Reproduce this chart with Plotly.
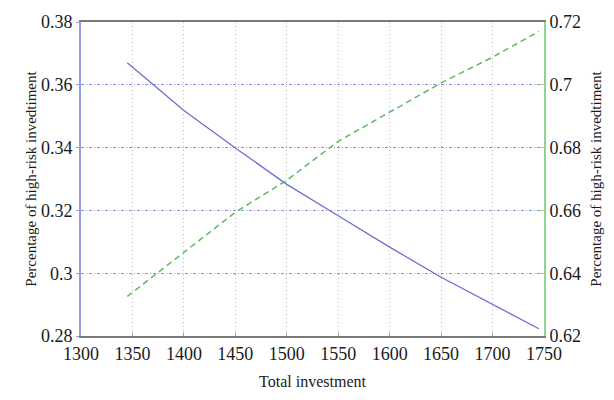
import plotly.graph_objects as go

investment = [1345, 1400, 1450, 1500, 1550, 1600, 1650, 1700, 1745]
share_left = [0.3670, 0.3518, 0.3399, 0.3283, 0.3183, 0.3083, 0.2987, 0.2900, 0.2823]
share_right = [0.6326, 0.6465, 0.6594, 0.6696, 0.6820, 0.6913, 0.7006, 0.7088, 0.7170]

x_ticks = [1300, 1350, 1400, 1450, 1500, 1550, 1600, 1650, 1700, 1750]
y_left_ticks = [0.28, 0.30, 0.32, 0.34, 0.36, 0.38]
y_left_text = ["0.28", "0.3", "0.32", "0.34", "0.36", "0.38"]
y_right_ticks = [0.62, 0.64, 0.66, 0.68, 0.70, 0.72]
y_right_text = ["0.62", "0.64", "0.66", "0.68", "0.7", "0.72"]

title_y = "Percentage of high-risk invedtiment"
title_x = "Total investment"

font = "Liberation Serif, Times New Roman, serif"
tick_font = dict(family=font, size=18, color="#1a1a1a")
ytitle_font = dict(family=font, size=15, color="#1a1a1a")

fig = go.Figure()
fig.add_trace(go.Scatter(x=investment, y=share_left, mode="lines",
                         line=dict(color="#6c6fd0", width=1.3), yaxis="y"))
fig.add_trace(go.Scatter(x=investment, y=share_right, mode="lines",
                         line=dict(color="#62b862", width=1.5, dash="6px,4px"), yaxis="y2"))

fig.update_layout(
    width=614, height=400,
    margin=dict(l=81, r=68, t=13, b=63),
    plot_bgcolor="white", paper_bgcolor="white",
    showlegend=False,
    font=dict(family=font, color="#1a1a1a"),
    xaxis=dict(range=[1300, 1750], tickvals=x_ticks, ticktext=[str(v) for v in x_ticks],
               showline=True, linecolor="#7a7a7a", linewidth=2, mirror=True,
               ticks="inside", ticklen=4, tickcolor="#aaaaaa",
               showgrid=True, gridcolor="#bdbdbd", griddash="1px,3px", gridwidth=1.2,
               zeroline=False, tickfont=tick_font,
               title=dict(text=title_x, font=dict(family=font, size=16, color="#1a1a1a"), standoff=13)),
    yaxis=dict(range=[0.28, 0.38], tickvals=y_left_ticks, ticktext=y_left_text,
               showline=True, linecolor="#9a9ce2", linewidth=2,
               ticks="outside", ticklen=3, tickcolor="#9a9ce2",
               showgrid=True, gridcolor="#8e8fd8", griddash="3px,2px,1px,2px", gridwidth=1.2,
               zeroline=False, tickfont=tick_font,
               title=dict(text=title_y, font=ytitle_font, standoff=1)),
    yaxis2=dict(range=[0.62, 0.72], tickvals=y_right_ticks, ticktext=y_right_text,
                overlaying="y", side="right",
                showline=True, linecolor="#92d492", linewidth=2,
                ticks="inside", ticklen=4, tickcolor="#92d492",
                showgrid=False, zeroline=False, tickfont=tick_font,
                title=dict(text=title_y, font=ytitle_font, standoff=10)),
)

fig.write_html("out.html", config={"displayModeBar": False},
               post_script="document.body.style.margin='0';")
